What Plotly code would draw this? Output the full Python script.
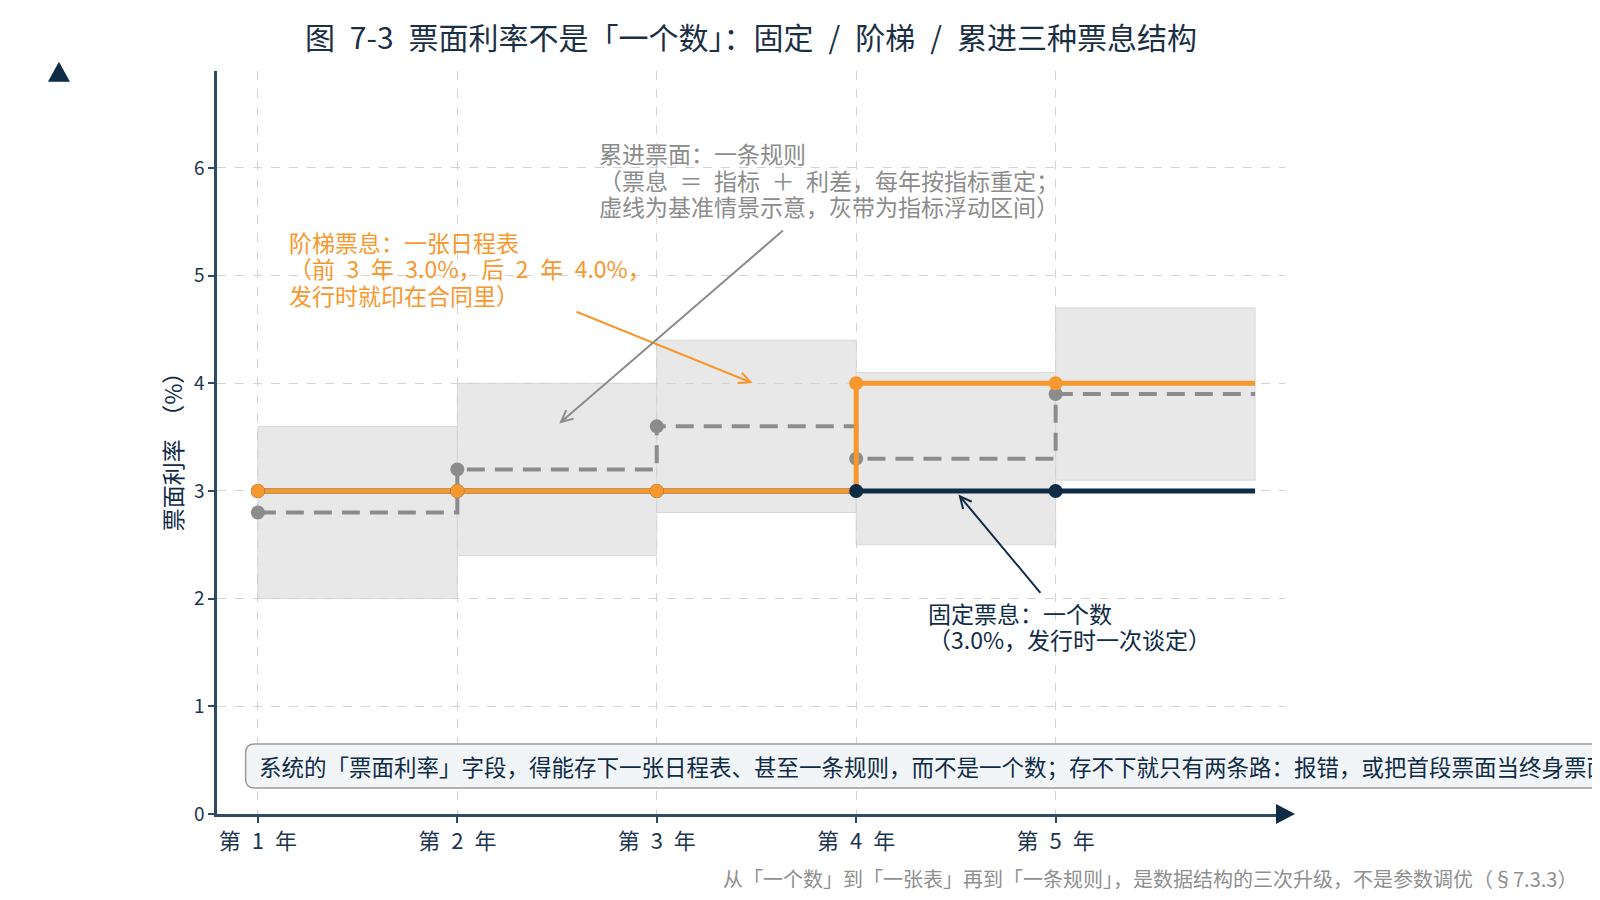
import math
import plotly.graph_objects as go

# ---- data ----
years = [1, 2, 3, 4, 5]
term_end = 6
year_labels = ["第\u20021\u2002年", "第\u20022\u2002年", "第\u20023\u2002年", "第\u20024\u2002年", "第\u20025\u2002年"]
y_ticks = [0, 1, 2, 3, 4, 5, 6]

fixed_rate = [3.0, 3.0, 3.0, 3.0, 3.0]
step_rate = [3.0, 3.0, 3.0, 4.0, 4.0]
float_base = [2.8, 3.2, 3.6, 3.3, 3.9]
band_low = [2.0, 2.4, 2.8, 2.5, 3.1]
band_high = [3.6, 4.0, 4.4, 4.1, 4.7]

title_text = "图\u20027-3\u2002票面利率不是「一个数」：固定\u2002/\u2002阶梯\u2002/\u2002累进三种票息结构"
y_title = "票面利率\u2002（%）"
note_step = ["阶梯票息：一张日程表",
             "（前\u20023\u2002年\u20023.0%，后\u20022\u2002年\u20024.0%，",
             "发行时就印在合同里）"]
note_float = ["累进票面：一条规则",
              "（票息\u2002＝\u2002指标\u2002＋\u2002利差，每年按指标重定；",
              "虚线为基准情景示意，灰带为指标浮动区间）"]
note_fixed = ["固定票息：一个数",
              "（3.0%，发行时一次谈定）"]
box_text = ("系统的「票面利率」字段，得能存下一张日程表、甚至一条规则，而不是一个数；"
            "存不下就只有两条路：报错，或把首段票面当终身票面。")
footer_text = "从「一个数」到「一张表」再到「一条规则」，是数据结构的三次升级，不是参数调优（§7.3.3）"

# ---- style ----
FONT = "Noto Sans CJK SC"
NAVY = "#0f2b46"
AXIS = "#2f4a63"
ORANGE = "#f7982e"
GREY = "#8c8c8c"
BAND = "#e8e8e8"

W, H = 1600, 900
MARGIN = dict(l=209, r=323, t=63, b=94)
X_RANGE = [0.795, 6.15]
Y_RANGE = [0, 6.9]
# pixels per data unit, used to orient the open arrow heads
SX = (W - MARGIN["l"] - MARGIN["r"]) / (X_RANGE[1] - X_RANGE[0])
SY = (H - MARGIN["t"] - MARGIN["b"]) / (Y_RANGE[1] - Y_RANGE[0])

x_edges = years + [term_end]


def extend(vals):
    # step-post: repeat last value up to the end of the term
    return vals + [vals[-1]]


fig = go.Figure()

# floating band, one rectangle per year
for i in range(len(years)):
    fig.add_shape(type="rect", xref="x", yref="y",
                  x0=x_edges[i], x1=x_edges[i + 1], y0=band_low[i], y1=band_high[i],
                  fillcolor=BAND, line=dict(color="#d8d8d8", width=1), layer="below")

# floating baseline (dashed)
fig.add_trace(go.Scatter(
    x=x_edges, y=extend(float_base), mode="lines", line_shape="hv",
    line=dict(color=GREY, width=4, dash="18px,10px"), hoverinfo="skip", showlegend=False,
))
fig.add_trace(go.Scatter(
    x=years, y=float_base, mode="markers",
    marker=dict(color=GREY, size=14), showlegend=False,
))

# fixed line
fig.add_trace(go.Scatter(
    x=x_edges, y=extend(fixed_rate), mode="lines", line_shape="hv",
    line=dict(color=NAVY, width=5), hoverinfo="skip", showlegend=False,
))
# step line
fig.add_trace(go.Scatter(
    x=x_edges, y=extend(step_rate), mode="lines", line_shape="hv",
    line=dict(color=ORANGE, width=5), hoverinfo="skip", showlegend=False,
))
fig.add_trace(go.Scatter(
    x=years, y=fixed_rate, mode="markers",
    marker=dict(color=NAVY, size=14), showlegend=False,
))
fig.add_trace(go.Scatter(
    x=years, y=step_rate, mode="markers",
    marker=dict(color=ORANGE, size=14), showlegend=False,
))

# ---- annotations ----
LINE_GAP = 26.5


def label(x, y, lines, color):
    mid = (len(lines) - 1) / 2
    for i, line in enumerate(lines):
        fig.add_annotation(x=x, y=y, xref="x", yref="y", text=line, showarrow=False,
                           xanchor="left", yanchor="middle", align="left",
                           yshift=(mid - i) * LINE_GAP,
                           font=dict(family=FONT, size=23, color=color))


def arrow(x_head, y_head, x_tail, y_tail, color, width):
    # shaft
    fig.add_annotation(x=x_head, y=y_head, xref="x", yref="y",
                       ax=x_tail, ay=y_tail, axref="x", ayref="y",
                       text="", showarrow=True, arrowhead=0,
                       arrowwidth=width, arrowcolor=color, standoff=0)
    # open "->" head
    dx = (x_tail - x_head) * SX
    dy = (y_tail - y_head) * SY
    n = math.hypot(dx, dy)
    ux, uy = dx / n, dy / n
    pts = []
    for a in (0.45, -0.45):
        c, s = math.cos(a), math.sin(a)
        pts.append((13 * (ux * c - uy * s), 13 * (ux * s + uy * c)))
    path = f"M {pts[0][0]:.1f},{pts[0][1]:.1f} L 0,0 L {pts[1][0]:.1f},{pts[1][1]:.1f}"
    fig.add_shape(type="path", xref="x", yref="y", xsizemode="pixel", ysizemode="pixel",
                  xanchor=x_head, yanchor=y_head, path=path, layer="above",
                  line=dict(color=color, width=width))


label(1.145, 5.07, note_step, ORANGE)
label(2.70, 5.89, note_float, GREY)
label(4.35, 1.745, note_fixed, NAVY)

arrow(3.47, 4.01, 2.59, 4.67, ORANGE, 2)
arrow(2.52, 3.64, 3.64, 5.43, GREY, 2)
arrow(4.52, 2.95, 4.93, 2.04, NAVY, 2)

# note box at the bottom (rounded left corners, runs off the right edge)
fig.add_shape(type="path", xref="paper", yref="paper", xsizemode="pixel", ysizemode="pixel",
              xanchor=0.0268, yanchor=0.0646, layer="above",
              path="M 9,-22 L 1500,-22 L 1500,22 L 9,22 Q 0,22 0,13 L 0,-13 Q 0,-22 9,-22 Z",
              fillcolor="#f2f5f8", line=dict(color="#9a9a9a", width=1.5))
fig.add_annotation(x=0.0268, y=0.0646, xref="paper", yref="paper", text=box_text, showarrow=False,
                   xanchor="left", yanchor="middle", align="left", xshift=11,
                   font=dict(family=FONT, size=22.5, color=NAVY))

# y axis title
fig.add_annotation(x=-0.042, y=0.495, xref="paper", yref="paper", text=y_title,
                   showarrow=False, textangle=-90, xanchor="center", yanchor="middle",
                   font=dict(family=FONT, size=23, color=NAVY))

# footer
fig.add_annotation(x=1.275, y=-0.0865, xref="paper", yref="paper", text=footer_text,
                   showarrow=False, xanchor="right", yanchor="middle",
                   font=dict(family=FONT, size=20, color="#8f8f8f"))

# axis arrow heads
fig.add_shape(type="path", xref="paper", yref="paper", xsizemode="pixel", ysizemode="pixel",
              xanchor=1.0, yanchor=0.0, path="M -9,-10 L 10,0 L -9,10 Z",
              fillcolor=NAVY, line=dict(width=0))
fig.add_shape(type="path", xref="paper", yref="paper", xsizemode="pixel", ysizemode="pixel",
              xanchor=-0.148, yanchor=0.999, path="M -11,-10 L 11,-10 L 0,10 Z",
              fillcolor=NAVY, line=dict(width=0))

fig.update_layout(
    width=W, height=H,
    paper_bgcolor="white", plot_bgcolor="white",
    margin=MARGIN,
    font=dict(family=FONT, color=NAVY),
    title=dict(text=title_text, x=0.5, xref="paper", xanchor="center",
               y=0.966, yref="container", yanchor="middle",
               font=dict(family=FONT, size=30, color="#1b2f45")),
    xaxis=dict(range=X_RANGE, tickvals=years, ticktext=year_labels,
               showgrid=True, gridcolor="#d3d3d3", griddash="dash", gridwidth=1,
               showline=True, linecolor=AXIS, linewidth=2.5,
               ticks="outside", ticklen=6, tickwidth=1.5, tickcolor=AXIS,
               tickfont=dict(family=FONT, size=22, color="#1e3550"),
               zeroline=False),
    yaxis=dict(range=Y_RANGE, tickvals=y_ticks,
               showgrid=True, gridcolor="#d3d3d3", griddash="dash", gridwidth=1,
               showline=True, linecolor=AXIS, linewidth=2.5,
               ticks="outside", ticklen=6, tickwidth=1.5, tickcolor=AXIS,
               tickfont=dict(family=FONT, size=19, color="#1e3550"),
               zeroline=False),
    showlegend=False,
)

fig.write_html("out.html")
